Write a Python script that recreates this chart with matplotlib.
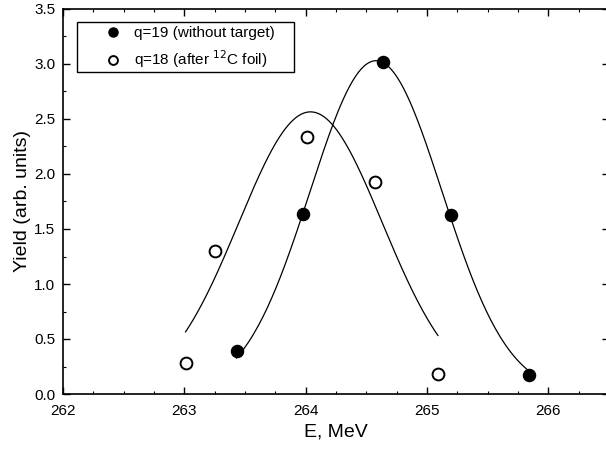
import numpy as np
import matplotlib
matplotlib.use('Agg')
import matplotlib.pyplot as plt
from matplotlib.ticker import MultipleLocator
from matplotlib.patches import Rectangle

plt.rcParams['font.family'] = ['Liberation Sans', 'DejaVu Sans']

# q=19 (without target)
e_19 = [263.43, 263.98, 264.64, 265.20, 265.84]
y_19 = [0.39, 1.64, 3.02, 1.63, 0.17]
# q=18 (after 12C foil)
e_18 = [263.01, 263.25, 264.01, 264.57, 265.09]
y_18 = [0.28, 1.30, 2.34, 1.93, 0.18]

# gaussian fit parameters: centre, height, sigma, range
fit_19 = [264.58, 3.03, 0.545, 263.43, 265.84]
fit_18 = [264.04, 2.565, 0.592, 263.01, 265.09]


def gauss_line(p):
    xc, a, s, x0, x1 = p
    xx = np.linspace(x0, x1, 200)
    return xx, a * np.exp(-(xx - xc) ** 2 / (2 * s ** 2))


W, H = 606, 454
fig = plt.figure(figsize=(W / 100, H / 100), dpi=100)
# axes box in pixels: left 63, right 609 (just past the picture edge), top 9, bottom 394
ax = fig.add_axes([63 / W, 1 - 394 / H, 546 / W, 385 / H])

xx, yy = gauss_line(fit_19)
ax.plot(xx, yy, color='black', lw=0.9)
xx, yy = gauss_line(fit_18)
ax.plot(xx, yy, color='black', lw=0.9)

ax.plot(e_19, y_19, 'o', color='black', ms=8.7, ls='none',
        label='q=19 (without target)')
ax.plot(e_18, y_18, 'o', mfc='white', mec='black', mew=1.4, ms=8.5, ls='none',
        label='q=18 (after $^{12}$C foil)')

ax.set_xlim(262, 266.5)
ax.set_ylim(0, 3.5)
ax.xaxis.set_major_locator(MultipleLocator(1))
ax.xaxis.set_minor_locator(MultipleLocator(0.25))
ax.yaxis.set_major_locator(MultipleLocator(0.5))
ax.yaxis.set_minor_locator(MultipleLocator(0.25))
ax.yaxis.set_major_formatter(plt.FormatStrFormatter('%.1f'))
ax.tick_params(which='both', direction='in', top=True, right=True, labelsize=11)
ax.tick_params(axis='x', pad=7.5)
ax.tick_params(axis='y', pad=5.5)
ax.tick_params(which='major', length=4.7, width=1)
ax.tick_params(which='minor', length=2.2, width=0.8)
for sp in ax.spines.values():
    sp.set_linewidth(1.2)

ax.set_xlabel('E, MeV', fontsize=14, labelpad=4)
ax.set_ylabel('Yield (arb. units)', fontsize=14, labelpad=2.2)

# legend text/markers without frame, box drawn separately to get the wide margins
ax.legend(loc='upper left', bbox_to_anchor=((99.5 - 63) / 546, (394 - 22) / 385),
          borderaxespad=0, fontsize=11, frameon=False, markerscale=0.75,
          handlelength=1.2, handletextpad=0.77, borderpad=0.28, labelspacing=0.55)
ax.add_patch(Rectangle(((77 - 63) / 546, (394 - 72) / 385), 217 / 546, 50 / 385,
                       transform=ax.transAxes, fill=False, edgecolor='black',
                       lw=1.0, zorder=5))

fig.savefig('out.png', dpi=100)
